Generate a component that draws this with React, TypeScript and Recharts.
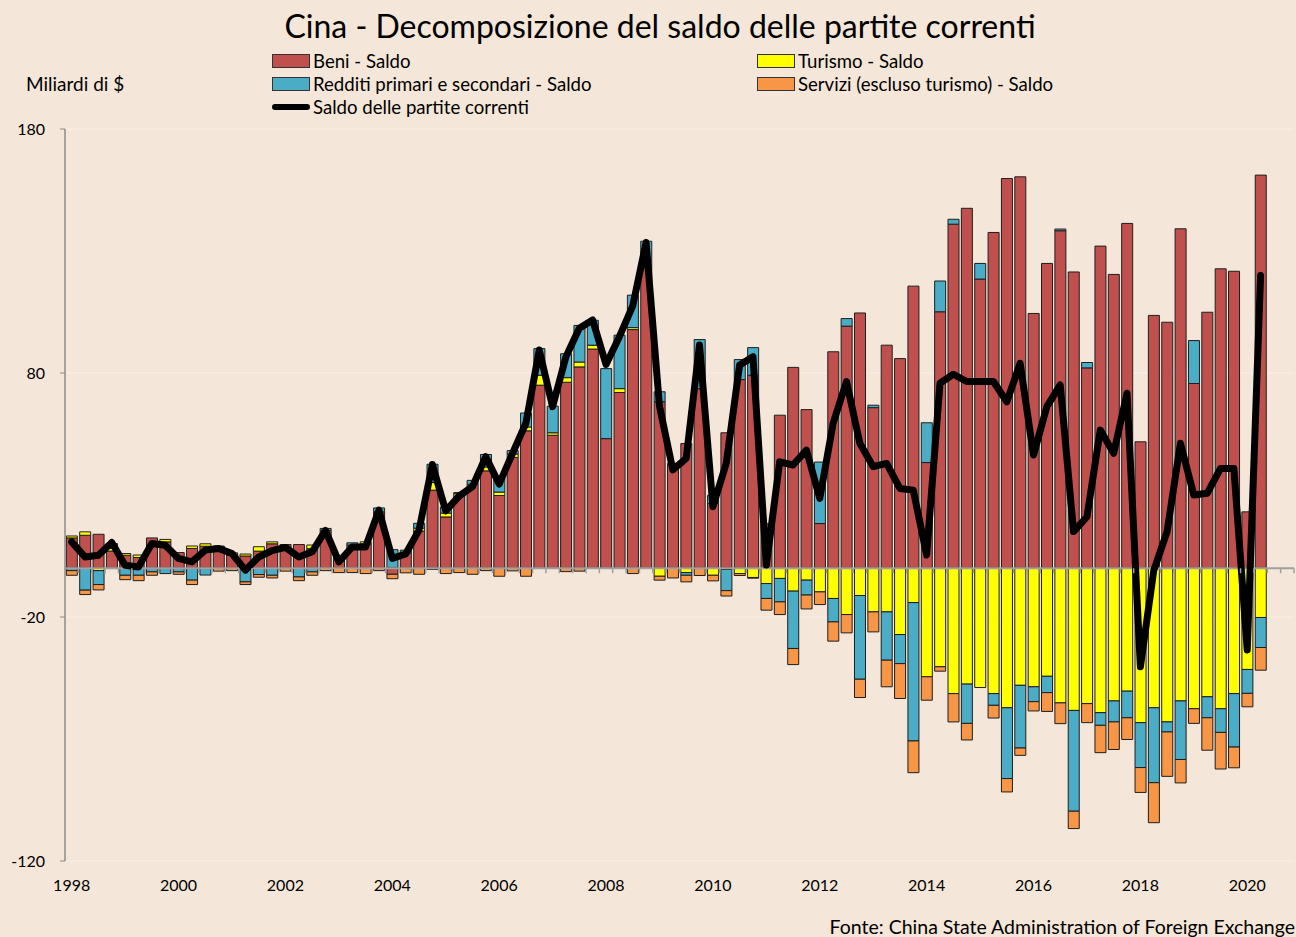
import React from 'react';
import { ComposedChart, Bar, Line, XAxis, YAxis, CartesianGrid, ReferenceLine } from 'recharts';

// quarterly, 1998 Q1 .. 2020 Q2 (axis runs to 2020 Q4)
const years = [1998, 1999, 2000, 2001, 2002, 2003, 2004, 2005, 2006, 2007, 2008, 2009, 2010, 2011, 2012, 2013, 2014, 2015, 2016, 2017, 2018, 2019, 2020];
const quarters = years.flatMap((y) => ['Q1', 'Q2', 'Q3', 'Q4'].map((q) => `${y} ${q}`));
const yearTicks = years.filter((y) => y % 2 === 0).map((y) => `${y} Q1`);
const yTicks = [180, 80, -20, -120];

const beni = [
  12.4, 13.5, 13.9, 7.0, 5.3, 4.4, 12.4, 10.8, 6.4, 8.1,
  9.0, 8.7, 5.5, 5.0, 7.0, 10.0, 9.7, 9.7, 8.0, 15.5,
  3.5, 9.5, 10.0, 23.1, -2.5, 6.2, 15.2, 32.0, 21.0, 29.5,
  34.4, 39.9, 29.8, 45.4, 56.3, 75.0, 54.5, 76.2, 82.5, 89.8,
  53.1, 72.0, 97.8, 123.0, 68.2, 43.0, 51.1, 73.6, 26.5, 55.5,
  77.3, 79.1, 18.2, 62.7, 82.3, 65.0, 18.3, 88.7, 99.2, 104.6,
  65.8, 91.4, 85.9, 115.6, 43.3, 105.1, 141.0, 147.5, 118.5, 137.6,
  159.7, 160.4, 104.4, 124.9, 138.3, 121.4, 82.1, 132.0, 120.4, 141.3,
  51.8, 103.6, 100.8, 139.1, 75.7, 104.9, 122.7, 121.7, 23.1, 161.1,
];

const turismo = [
  0.8, 1.4, -1.0, 1.3, 0.7, 1.0, 0, 1.0, 0, 1.0,
  1.0, 0, 0.8, 0.8, 1.8, 0.8, 0, 0, 1.5, 0,
  0, 0, 0.8, 0, 0.3, 0, 1.2, 3.1, 1.6, 1.0,
  0, 1.6, 1.4, 1.4, 1.6, 4.1, 1.0, 1.9, 2.0, 1.6,
  0, 1.6, 0.8, 0.5, -3.3, 0, -1.8, 0, -2.9, -0.5,
  -2.2, -3.8, -6.3, -4.2, -9.4, -4.9, -9.7, -12.4, -19.0, -11.2,
  -17.9, -17.9, -27.2, -14.1, -44.5, -40.4, -51.4, -47.5, -48.9, -51.4,
  -57.2, -48.0, -48.6, -44.3, -55.2, -58.3, -55.5, -59.2, -54.4, -50.4,
  -63.3, -57.2, -63.0, -54.4, -57.6, -52.7, -57.6, -51.4, -41.5, -20.2,
];

const redditi = [
  -1.0, -9.0, -5.7, 1.8, -2.9, -2.9, -1.5, -2.2, -1.5, -4.9,
  -2.8, 0.4, 0, -5.6, -2.6, -2.9, 0, -3.6, -1.5, 0.8,
  1.0, 0.9, 0, 1.6, 7.3, 1.2, 2.0, 7.5, 2.5, 0.5,
  1.6, 5.1, 5.5, 1.4, 5.7, 10.9, 10.9, 9.8, 15.0, 10.2,
  28.7, 21.9, 13.3, 10.5, 4.1, 0, -1.1, 20.1, 3.4, -8.7,
  8.2, 11.3, -6.1, -9.6, -23.5, -6.1, 25.2, -9.6, 3.1, -34.3,
  1.0, -19.8, -11.9, -56.7, 16.3, 12.6, 2.0, -16.1, 6.4, -4.8,
  -29.0, -25.7, -6.1, -6.7, 0.7, -41.3, 2.2, -5.2, -8.6, -10.9,
  -18.4, -30.7, -4.1, -24.0, 17.6, -8.6, -9.7, -21.9, -9.8, -12.3,
];

const servizi = [
  -1.9, -1.8, -2.2, 0, -1.8, -2.2, -1.4, 0, -1.0, -1.8,
  0, -1.2, -1.0, -1.1, -1.1, -1.1, -1.2, -1.5, -1.4, -1.0,
  -1.8, -1.8, -2.2, -1.0, -1.8, -1.9, -2.5, -0.5, -2.2, -1.8,
  -2.5, -1.0, -3.3, -1.1, -3.3, 0, 0, -1.4, -1.2, 0,
  0, 0, -2.2, 0, -1.6, -4.0, -2.7, -3.0, -2.3, -2.2,
  -0.8, -0.3, -4.8, -5.2, -6.6, -5.7, -5.2, -7.9, -7.5, -7.5,
  -8.2, -10.9, -14.3, -13.0, -9.6, -1.8, -11.6, -6.8, 0, -5.2,
  -5.5, -3.0, -3.8, -7.7, -8.5, -7.1, -7.8, -11.2, -11.3, -8.9,
  -10.2, -16.4, -18.2, -9.6, -6.0, -13.3, -15.0, -8.5, -5.5, -9.3,
];

const saldo = [
  10.8, 4.6, 5.3, 10.5, 1.2, 0.5, 10.1, 9.4, 4.0, 2.6,
  7.4, 8.1, 6.0, -0.8, 4.6, 7.2, 8.5, 4.6, 6.7, 15.5,
  2.6, 8.7, 8.7, 23.8, 4.0, 5.8, 15.6, 42.5, 23.5, 29.5,
  33.4, 45.7, 34.5, 47.1, 59.4, 89.4, 66.2, 86.7, 98.3, 101.7,
  83.5, 94.9, 107.5, 133.5, 66.5, 40.3, 45.0, 91.5, 25.2, 43.0,
  83.3, 86.7, 1.3, 43.6, 42.3, 48.4, 28.6, 59.4, 76.5, 51.2,
  41.6, 43.0, 32.7, 32.0, 5.4, 75.8, 79.5, 76.5, 76.5, 76.5,
  68.2, 84.0, 46.4, 66.2, 75.1, 15.0, 21.1, 56.6, 47.1, 71.7,
  -40.4, -1.0, 15.0, 51.2, 30.0, 30.7, 40.9, 40.9, -33.5, 120.0,
];

const data = quarters.map((q, i) => ({
  q,
  beni: beni[i],
  turismo: turismo[i],
  redditi: redditi[i],
  servizi: servizi[i],
  saldo: saldo[i],
}));

const FONT = 'Lato, "Open Sans", sans-serif';
const W = 1296;
const H = 937;
const PLOT_LEFT = 65;
const PLOT_TOP = 129;
const PLOT_W = 1229;
const PLOT_H = 732;
const BAND = PLOT_W / quarters.length;
const ZERO_Y = PLOT_TOP + (PLOT_H * 180) / 300;

const legendItems = [
  { label: 'Beni - Saldo', color: '#C0504D', left: 272, top: 61, kind: 'box' },
  { label: 'Turismo - Saldo', color: '#FFFF00', left: 757, top: 61, kind: 'box' },
  { label: 'Redditi primari e secondari - Saldo', color: '#4BACC6', left: 272, top: 84, kind: 'box' },
  { label: 'Servizi (escluso turismo) - Saldo', color: '#F79646', left: 757, top: 84, kind: 'box' },
  { label: 'Saldo delle partite correnti', color: '#000000', left: 272, top: 107, kind: 'line' },
];

function QuarterTick(props: any) {
  const { x, payload } = props;
  const label = yearTicks.includes(payload.value) ? payload.value.slice(0, 4) : null;
  const bx = x + BAND / 2;
  return (
    <g>
      <line x1={bx} y1={ZERO_Y} x2={bx} y2={ZERO_Y + 5} stroke="#A0A0A0" strokeWidth={1.5} />
      {label && (
        <text x={x} y={PLOT_TOP + PLOT_H + 30} textAnchor="middle" fontSize={16} fontFamily={FONT} fill="#000">
          {label}
        </text>
      )}
    </g>
  );
}

export default function App() {
  return (
    <div style={{ position: 'absolute', left: 0, top: 0, width: W, height: H, background: '#F4E6D8', fontFamily: FONT, overflow: 'hidden' }}>
      <div style={{ position: 'absolute', left: 0, width: 1320, top: 6, textAlign: 'center', fontSize: 32, color: '#000' }}>
        Cina - Decomposizione del saldo delle partite correnti
      </div>
      <div style={{ position: 'absolute', left: 26, top: 72, fontSize: 19, color: '#000' }}>Miliardi di $</div>
      {legendItems.map((it) => (
        <div key={it.label} style={{ position: 'absolute', left: it.left, top: it.top - 11, height: 22, display: 'flex', alignItems: 'center', fontSize: 18.6, color: '#000', whiteSpace: 'nowrap' }}>
          {it.kind === 'box' ? (
            <span style={{ display: 'inline-block', width: 36, height: 12, background: it.color, border: '1px solid #333', marginRight: 3 }} />
          ) : (
            <span style={{ display: 'inline-block', width: 38, height: 6, borderRadius: 3, background: it.color, marginRight: 3 }} />
          )}
          {it.label}
        </div>
      ))}
      <div style={{ position: 'absolute', right: 1, top: 915, fontSize: 19.5, color: '#000', whiteSpace: 'nowrap' }}>
        Fonte: China State Administration of Foreign Exchange
      </div>
      <div style={{ position: 'absolute', left: 0, top: 0 }}>
        <ComposedChart
          width={W}
          height={H}
          data={data}
          stackOffset="sign"
          barCategoryGap="10%"
          margin={{ top: PLOT_TOP, right: W - PLOT_LEFT - PLOT_W, bottom: 0, left: 0 }}
        >
          <CartesianGrid vertical={false} stroke="#FAF1E8" />
          <XAxis
            dataKey="q"
            ticks={quarters}
            interval={0}
            height={H - PLOT_TOP - PLOT_H}
            axisLine={false}
            tickLine={false}
            tick={<QuarterTick />}
          />
          <YAxis
            domain={[-120, 180]}
            ticks={yTicks}
            interval={0}
            width={PLOT_LEFT}
            allowDataOverflow
            axisLine={{ stroke: '#8C8C8C', strokeWidth: 1.5 }}
            tickLine={{ stroke: '#8C8C8C' }}
            tickSize={5}
            tickMargin={15}
            tick={{ fontSize: 16, fontFamily: FONT, fill: '#000' }}
          />
          <ReferenceLine y={0} stroke="#A0A0A0" strokeWidth={2} />
          <Bar dataKey="beni" stackId="a" fill="#C0504D" stroke="#1E1E1E" strokeWidth={1} isAnimationActive={false} />
          <Bar dataKey="turismo" stackId="a" fill="#FFFF00" stroke="#1E1E1E" strokeWidth={1} isAnimationActive={false} />
          <Bar dataKey="redditi" stackId="a" fill="#4BACC6" stroke="#1E1E1E" strokeWidth={1} isAnimationActive={false} />
          <Bar dataKey="servizi" stackId="a" fill="#F79646" stroke="#1E1E1E" strokeWidth={1} isAnimationActive={false} />
          <Line
            type="linear"
            dataKey="saldo"
            stroke="#000"
            strokeWidth={7}
            strokeLinejoin="round"
            strokeLinecap="round"
            dot={false}
            activeDot={false}
            isAnimationActive={false}
          />
        </ComposedChart>
      </div>
    </div>
  );
}
